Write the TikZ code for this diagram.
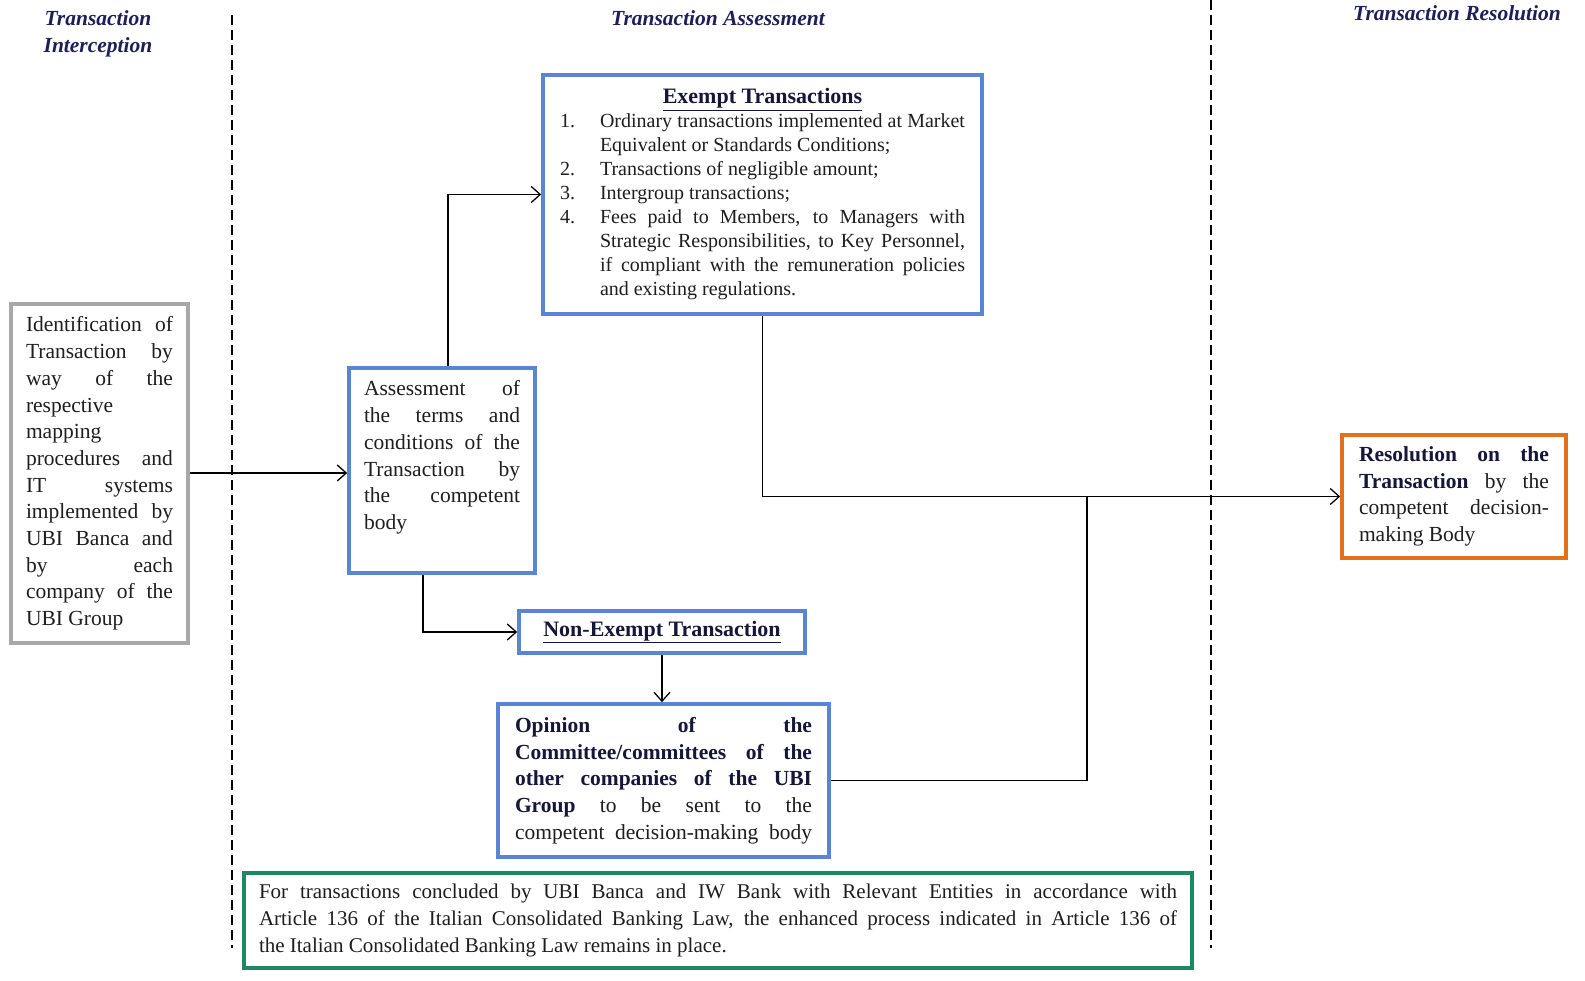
\documentclass[tikz,border=0pt]{standalone}
\usepackage{fontspec}
\setmainfont{Liberation Serif}
\usetikzlibrary{arrows.meta}
\definecolor{navy}{RGB}{30,30,90}
\definecolor{ink}{RGB}{22,22,58}
\definecolor{bodyink}{RGB}{30,30,30}
\definecolor{boxblue}{RGB}{92,132,214}
\definecolor{boxgray}{RGB}{168,168,168}
\definecolor{boxorange}{RGB}{228,112,28}
\definecolor{boxgreen}{RGB}{30,135,100}
\newcommand{\bt}[1]{\textcolor{ink}{\textbf{#1}}}
\newcommand{\jfont}{\hyphenpenalty=10000 \exhyphenpenalty=10000 \tolerance=10000 }
\newcommand{\itm}[1]{\hangindent=40pt\hangafter=1\noindent\makebox[40pt][l]{#1}}
\begin{document}
\begin{tikzpicture}[x=1pt,y=-1pt,
  frame/.style={draw, line width=3.6pt, inner sep=0pt, align=justify, text=bodyink,
    font=\fontsize{21.5}{26.7}\selectfont\jfont},
  arr/.style={line width=1.3pt, -{Straight Barb[length=9pt,width=16pt]}},
  wire/.style={line width=1.3pt},
  sep/.style={line width=1.4pt, dash pattern=on 10pt off 5pt},
  hdr/.style={font=\fontsize{21.5}{27}\selectfont\bfseries\itshape, text=navy, align=center, inner sep=0pt}]
\useasboundingbox (0,0) rectangle (1585,981);
\fill[white] (0,0) rectangle (1585,981);

% separators
\draw[sep] (232,15) -- (232,948);
\draw[sep] (1211,0) -- (1211,948);

% headers
\node[hdr] (h1) at (98,33.5) {Transaction\\Interception};
\node[hdr] (h2) at (718,18) {Transaction Assessment};
\node[hdr] (h3) at (1457,13) {Transaction Resolution};

% boxes
\node[frame, draw=boxgray, minimum width=177pt, minimum height=339pt, text width=147pt] (ident) at (99.5,473.5)
{Identification of\linebreak Transaction by\linebreak way of the\linebreak respective\newline mapping\newline procedures and\linebreak IT systems\linebreak implemented by\linebreak UBI Banca and\linebreak by each\linebreak company of the\linebreak UBI Group\par};

\node[frame, draw=boxblue, minimum width=186pt, minimum height=205pt, text width=156pt] (assess) at (442,470.5)
{Assessment of\linebreak the terms and\linebreak conditions of the\linebreak Transaction by\linebreak the competent\linebreak body\par\kern26pt};

\node[frame, draw=boxblue, minimum width=439pt, minimum height=239pt, text width=405pt,
  font=\fontsize{20}{24}\selectfont\jfont] (exempt) at (762.5,194.5)
{{\centering\fontsize{22}{24}\selectfont\bt{\underline{Exempt Transactions}}\par}
\itm{1.}Ordinary transactions implemented at Market\linebreak Equivalent or Standards Conditions;\par
\itm{2.}Transactions of negligible amount;\par
\itm{3.}Intergroup transactions;\par
\itm{4.}Fees paid to Members, to Managers with\linebreak Strategic Responsibilities, to Key Personnel,\linebreak if compliant with the remuneration policies\linebreak and existing regulations.\par};

\node[frame, draw=boxblue, minimum width=286pt, minimum height=42pt, align=center, font=\fontsize{22}{26.7}\selectfont] (nonex) at (662,632)
{\bt{\underline{Non-Exempt Transaction}}};

\node[frame, draw=boxblue, minimum width=331pt, minimum height=153pt, text width=297pt] (opinion) at (663.5,780.5)
{\parfillskip=0pt \bt{Opinion of the}\linebreak \bt{Committee/committees of the}\linebreak \bt{other companies of the UBI}\linebreak \bt{Group} to be sent to the\linebreak competent decision-making body\par};

\node[frame, draw=boxorange, minimum width=224pt, minimum height=123pt, text width=190pt] (resol) at (1454,496.5)
{\bt{Resolution on the}\linebreak \bt{Transaction} by the\linebreak competent decision-\linebreak making Body\par};

\node[frame, draw=boxgreen, minimum width=948pt, minimum height=95pt, text width=918pt,
  font=\fontsize{21}{26.7}\selectfont\jfont] (note) at (718,920.5)
{For transactions concluded by UBI Banca and IW Bank with Relevant Entities in accordance with\linebreak Article 136 of the Italian Consolidated Banking Law, the enhanced process indicated in Article 136 of\linebreak the Italian Consolidated Banking Law remains in place.\par};

% connectors
\coordinate (j) at (1087,496.5);
\draw[arr] (ident.east |- 0,473) -- (assess.west |- 0,473);
\draw[arr] ([xshift=6pt]assess.north) |- (exempt.west);
\draw[arr] ([xshift=-19pt]assess.south) |- (nonex.west);
\draw[arr] (nonex.south) -- (opinion.north -| nonex.south);
\draw[arr] (exempt.south) |- (resol.west);
\draw[wire] (opinion.east) -| (j);
\end{tikzpicture}
\end{document}
